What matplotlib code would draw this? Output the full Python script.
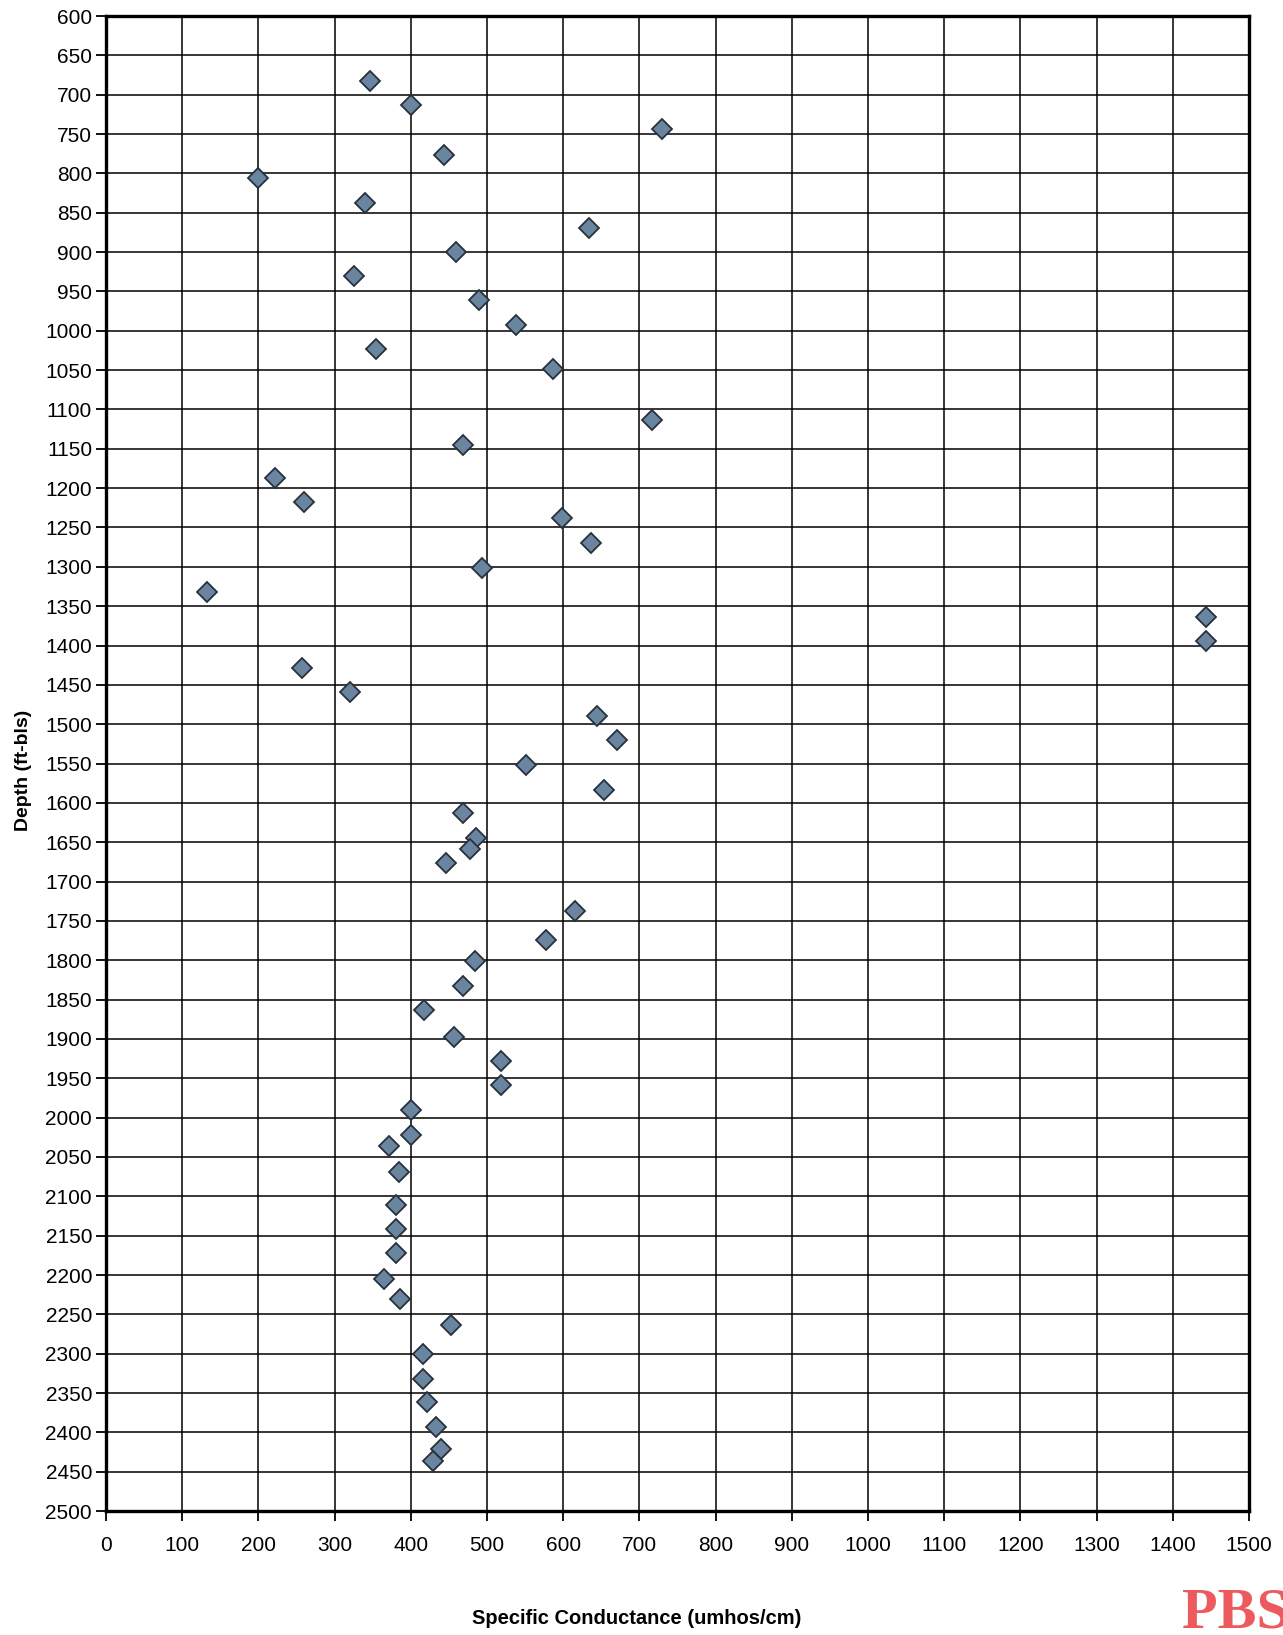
import numpy as np
import matplotlib.pyplot as plt

# specific conductance (umhos/cm) and sample depth (ft below land surface)
conductance = [346, 400, 730, 443, 199, 340, 634, 459, 325, 489, 538, 355, 586, 716, 468,
               222, 260, 598, 636, 494, 132, 1443, 1443, 257, 320, 645, 670, 551, 653, 469,
               486, 478, 446, 616, 577, 484, 469, 418, 457, 519, 519, 400, 400, 371, 384,
               381, 381, 381, 365, 386, 453, 416, 416, 421, 433, 440, 429]
depth = [683, 713, 744, 776, 806, 838, 869, 900, 931, 961, 993, 1023, 1049, 1114, 1145,
         1187, 1218, 1238, 1270, 1301, 1332, 1364, 1394, 1428, 1459, 1489, 1520, 1552, 1583, 1613,
         1645, 1659, 1677, 1737, 1774, 1801, 1833, 1863, 1898, 1928, 1959, 1990, 2022, 2036, 2069,
         2111, 2141, 2172, 2205, 2230, 2264, 2301, 2332, 2361, 2393, 2421, 2437]

x_ticks = np.arange(0, 1501, 100)
y_ticks = np.arange(600, 2501, 50)

plt.rcParams['font.family'] = ['Liberation Sans', 'DejaVu Sans']

fig = plt.figure(figsize=(12.83, 16.35), dpi=100)
ax = fig.add_axes([0.0826, 0.0758, 0.8909, 0.9144])

ax.plot(conductance, depth, linestyle='none', marker='D', markersize=10,
        markerfacecolor='#6a859f', markeredgecolor='#27313c', markeredgewidth=1.3, zorder=3)

ax.set_xlim(0, 1500)
ax.set_ylim(2500, 600)
ax.set_xticks(x_ticks)
ax.set_yticks(y_ticks)
ax.grid(True, color='black', linewidth=1.1)
ax.set_axisbelow(True)
for s in ax.spines.values():
    s.set_linewidth(2.4)
    s.set_color('black')
ax.tick_params(axis='both', labelsize=15, length=7, width=1.3, direction='out', colors='black')
ax.tick_params(axis='x', pad=11)
ax.tick_params(axis='y', pad=3)

fig.text(0.018, 0.529, 'Depth (ft-bls)', fontsize=14, fontweight='bold',
         rotation=90, ha='center', va='center')
fig.text(0.4966, 0.0067, 'Specific Conductance (umhos/cm)', fontsize=14.5, fontweight='bold',
         ha='center', va='baseline')

# company mark in the lower right corner
fig.text(0.921, -0.003, 'PBS', fontsize=42, fontweight='bold', color='#ec5a5e',
         family=['Liberation Serif', 'DejaVu Serif'], ha='left', va='bottom')

fig.savefig('out.png', dpi=100)
